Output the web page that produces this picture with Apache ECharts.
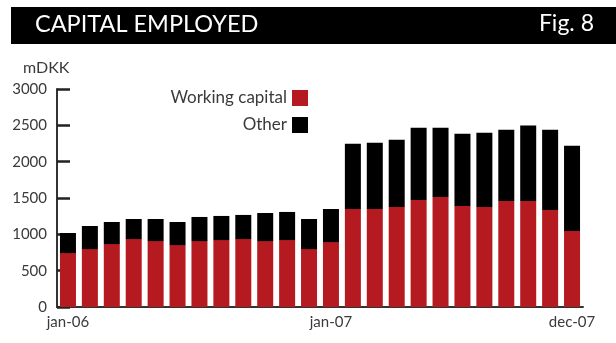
<!DOCTYPE html>
<html>
<head>
<meta charset="utf-8">
<script src="https://cdn.jsdelivr.net/npm/echarts@6/dist/echarts.min.js"></script>
<style>
  html, body { margin: 0; padding: 0; background: #fff; }
  #chart { width: 616px; height: 343px; }
</style>
</head>
<body>
<div id="chart"></div>
<script>
// Monthly capital employed, mDKK, Jan 2006 – Dec 2007
const months = [
  'jan-06','feb-06','mar-06','apr-06','may-06','jun-06','jul-06','aug-06','sep-06','oct-06','nov-06','dec-06',
  'jan-07','feb-07','mar-07','apr-07','may-07','jun-07','jul-07','aug-07','sep-07','oct-07','nov-07','dec-07'
];
const workingCapital = [
  742, 797, 866, 935, 907, 852, 907, 921, 935, 907, 921, 797,
  893, 1349, 1349, 1377, 1474, 1515, 1391, 1377, 1460, 1460, 1335, 1046
];
const other = [
  276, 318, 304, 276, 304, 318, 332, 332, 332, 387, 387, 414,
  456, 898, 912, 925, 994, 953, 994, 1022, 980, 1036, 1105, 1174
];
const shownLabels = ['jan-06', 'jan-07', 'dec-07'];

const FONT = 'Lato, "Open Sans", sans-serif';
const TEXT = '#3a3a3a';
const AXIS = '#333';

const chart = echarts.init(document.getElementById('chart'), null, { renderer: 'canvas' });
chart.setOption({
  backgroundColor: '#fff',
  animation: false,
  textStyle: { fontFamily: FONT },
  graphic: [
    { type: 'rect', shape: { x: 11, y: 7, width: 605, height: 37 }, style: { fill: '#000' } },
    { type: 'text', left: 35, top: 12, style: { text: 'CAPITAL EMPLOYED', fill: '#fff', font: '23.5px ' + FONT } },
    { type: 'text', right: 22, top: 12, style: { text: 'Fig. 8', fill: '#fff', font: '23px ' + FONT } },
    { type: 'text', left: 23, top: 60, style: { text: 'mDKK', fill: TEXT, font: '16px ' + FONT } }
  ],
  legend: {
    orient: 'vertical',
    right: 303,
    top: 84,
    align: 'right',
    itemWidth: 16,
    itemHeight: 16,
    itemGap: 9,
    icon: 'rect',
    textStyle: { fontFamily: FONT, fontSize: 17, color: TEXT, lineHeight: 18 },
    data: ['Working capital', 'Other']
  },
  grid: { left: 57, right: 33, top: 89, bottom: 36, containLabel: false },
  xAxis: {
    type: 'category',
    data: months,
    axisLine: { lineStyle: { color: AXIS, width: 2 } },
    axisTick: { show: false },
    axisLabel: {
      interval: 0,
      margin: 8,
      fontFamily: FONT,
      fontSize: 15,
      color: TEXT,
      formatter: v => (shownLabels.includes(v) ? v : '')
    }
  },
  yAxis: {
    type: 'value',
    position: 'left',
    min: 0,
    max: 3000,
    interval: 500,
    splitLine: { show: false },
    axisLine: { show: true, lineStyle: { color: AXIS, width: 2 } },
    axisTick: { show: true, inside: true, length: 13, lineStyle: { color: '#222', width: 2.5 } },
    axisLabel: { margin: 10, fontFamily: FONT, fontSize: 15, color: TEXT, formatter: v => String(v) }
  },
  series: [
    {
      name: 'Working capital',
      type: 'bar',
      stack: 'total',
      barWidth: 16,
      itemStyle: { color: '#B41A1F' },
      data: workingCapital
    },
    {
      name: 'Other',
      type: 'bar',
      stack: 'total',
      barWidth: 16,
      itemStyle: { color: '#000' },
      data: other
    }
  ]
});
</script>
</body>
</html>
